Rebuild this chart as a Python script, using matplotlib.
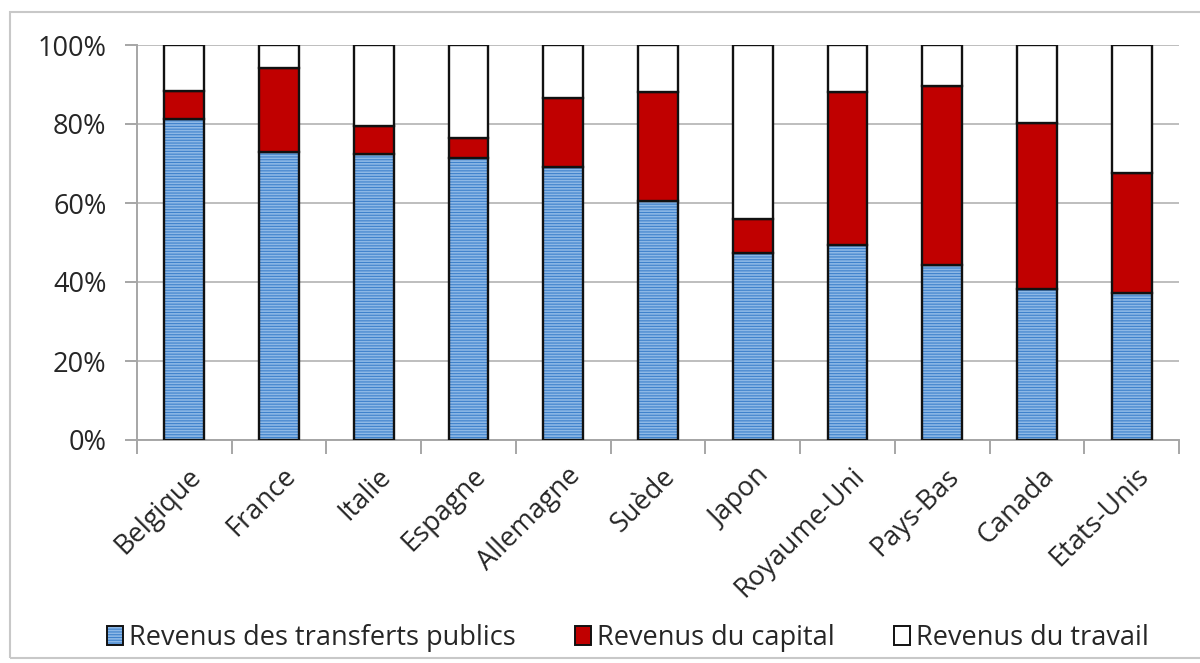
import matplotlib
matplotlib.use("Agg")
import matplotlib.pyplot as plt
from matplotlib.patches import Patch, Rectangle
from matplotlib.legend_handler import HandlerTuple
from matplotlib.ticker import FuncFormatter
import matplotlib.transforms as mtransforms
import numpy as np

countries = ["Belgique", "France", "Italie", "Espagne", "Allemagne", "Suède",
             "Japon", "Royaume-Uni", "Pays-Bas", "Canada", "Etats-Unis"]
transferts = [81.3, 73.0, 72.3, 71.5, 69.2, 60.6, 47.4, 49.4, 44.3, 38.2, 37.1]
capital = [7.1, 21.3, 7.2, 4.9, 17.5, 27.6, 8.5, 38.8, 45.4, 42.1, 30.6]
travail = [100 - t - c for t, c in zip(transferts, capital)]
series_labels = ["Revenus des transferts publics", "Revenus du capital", "Revenus du travail"]
y_ticks = [0, 20, 40, 60, 80, 100]

plt.rcParams['font.family'] = ['Open Sans', 'DejaVu Sans']
plt.rcParams['hatch.linewidth'] = 0.8

fig = plt.figure(figsize=(12, 6.63), dpi=100)
ax = fig.add_axes([137/1200, 1-440/663, (1179-137)/1200, (440-45)/663])

# outer frame
fig.patches.append(Rectangle((10/1200, 1-658/663), 1.2, (658-12)/663, transform=fig.transFigure,
                             fill=False, edgecolor='#C8C8C8', linewidth=1.5, zorder=0))

x = np.arange(len(countries))
w = 0.42
blue_face = '#8DB8E6'
blue_hatch = '#3F82CC'
red = '#C00000'
edge = '#111111'
lw = 1.7

ax.bar(x, transferts, w, color=blue_face, edgecolor=blue_hatch, hatch='------', linewidth=0, zorder=2)
ax.bar(x, transferts, w, fill=False, edgecolor=edge, linewidth=lw, zorder=3)
ax.bar(x, capital, w, bottom=transferts, color=red, edgecolor=edge, linewidth=lw, zorder=3)
bottom2 = [t + c for t, c in zip(transferts, capital)]
ax.bar(x, travail, w, bottom=bottom2, color='white', edgecolor=edge, linewidth=lw, zorder=3)

ax.set_xlim(-0.5, len(countries) - 0.5)
ax.set_ylim(0, 100)
ax.set_yticks(y_ticks)
ax.yaxis.set_major_formatter(FuncFormatter(lambda v, p: f"{int(v)}%"))
ax.grid(axis='y', color='#BEBEBE', linewidth=1.4, zorder=0)
ax.set_axisbelow(True)

for s in ['top', 'right']:
    ax.spines[s].set_visible(False)
for s in ['left', 'bottom']:
    ax.spines[s].set_color('#A6A6A6')
    ax.spines[s].set_linewidth(1.4)

ax.set_xticks(np.arange(len(countries) + 1) - 0.5, minor=False)
ax.set_xticklabels([])
ax.set_xticks(x, minor=True)
ax.set_xticklabels(countries, minor=True, rotation=45, ha='right', rotation_mode='anchor',
                   fontsize=19.5, color='#262626')
ax.tick_params(axis='x', which='major', length=10, color='#A6A6A6', width=1.4, direction='out')
ax.tick_params(axis='x', which='minor', length=0, pad=16)
ax.tick_params(axis='y', length=9, color='#A6A6A6', width=1.4, labelsize=19.5, labelcolor='#262626', pad=13)

offset = mtransforms.ScaledTranslation(3/100, 0, fig.dpi_scale_trans)
for lab in ax.get_xticklabels(minor=True):
    lab.set_transform(lab.get_transform() + offset)

h_blue = (Patch(facecolor=blue_face, edgecolor=blue_hatch, hatch='------', linewidth=0),
          Patch(fill=False, edgecolor=edge, linewidth=1.4))
h_red = Patch(facecolor=red, edgecolor=edge, linewidth=1.4)
h_white = Patch(facecolor='white', edgecolor=edge, linewidth=1.4)
fig.legend([h_blue, h_red, h_white], series_labels,
           handler_map={tuple: HandlerTuple(ndivide=1, pad=0)},
           loc='center', bbox_to_anchor=(628/1200, 1-638/663), ncol=3, frameon=False,
           fontsize=19.5, handlelength=0.6, handleheight=0.75, handletextpad=0.2,
           columnspacing=2.2, labelcolor='#262626')

fig.savefig("out.png", dpi=100, facecolor='white')
